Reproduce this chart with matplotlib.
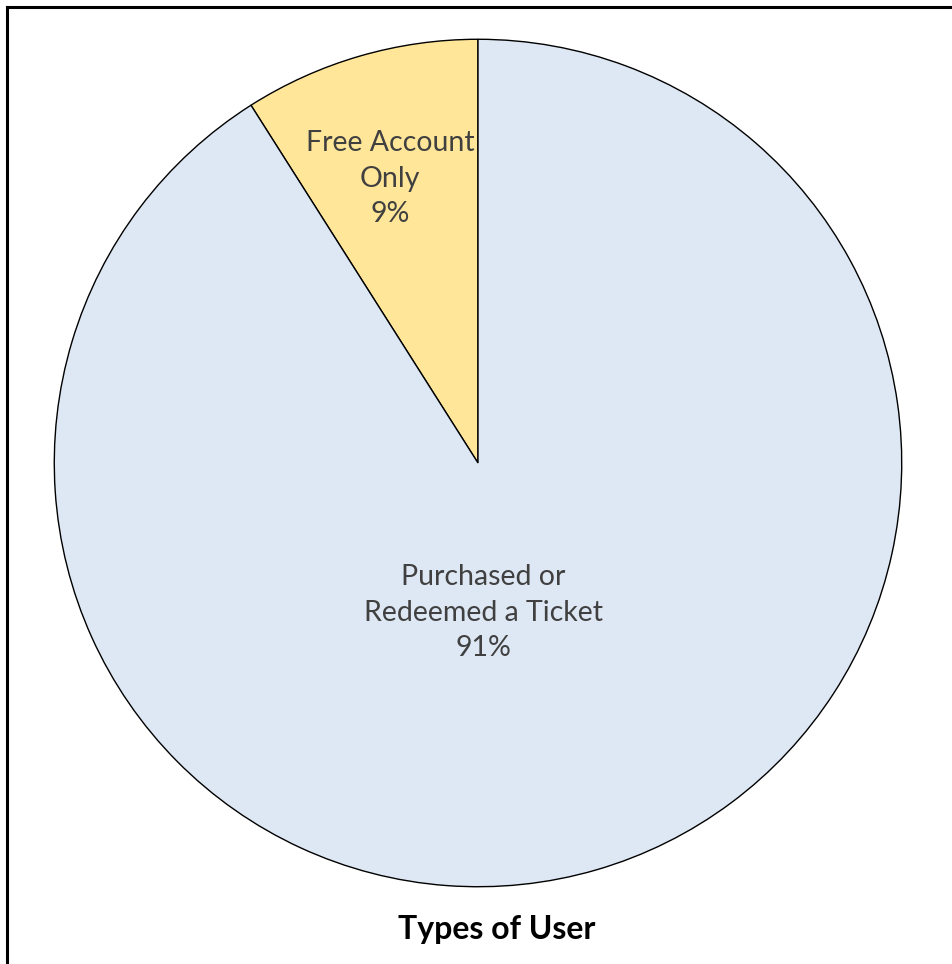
import matplotlib.pyplot as plt
from matplotlib.lines import Line2D

# user share by type
labels = ['Free Account\nOnly', 'Purchased or\nRedeemed a Ticket']
shares = [9, 91]
colors = ['#FFE699', '#DEE8F4']
title = 'Types of User'

W, H = 952, 964


def px_box(left, top, right, bottom):
    return [left / W, 1 - bottom / H, (right - left) / W, (bottom - top) / H]


def main():
    plt.rcParams['font.family'] = ['Lato', 'DejaVu Sans']
    fig = plt.figure(figsize=(W / 100, H / 100), dpi=100)
    ax = fig.add_axes(px_box(53, 38, 903, 888))

    wedges, _ = ax.pie(shares, colors=colors, startangle=90, counterclock=True,
                       radius=1, wedgeprops=dict(edgecolor='black', linewidth=1.0))
    ax.set_xlim(-1.003, 1.003)
    ax.set_ylim(-1.003, 1.003)
    ax.axis('off')

    total = sum(shares)
    label_pos = [(-0.207, 0.671), (0.012, -0.353)]
    for lab, val, (x, y) in zip(labels, shares, label_pos):
        ax.text(x, y, '%s\n%d%%' % (lab, round(val / total * 100)),
                ha='center', va='center', fontsize=20.5, color='#404040',
                linespacing=1.45)

    fig.text(497 / W, 1 - 930 / H, title, ha='center', va='center',
             fontsize=23, fontweight='bold', color='black')

    # frame edges along the top and left
    fig.add_artist(Line2D([7 / W, 7 / W], [0, 1 - 7 / H], color='black', lw=2.2,
                          transform=fig.transFigure))
    fig.add_artist(Line2D([7 / W, 1], [1 - 7 / H, 1 - 7 / H], color='black', lw=2.2,
                          transform=fig.transFigure))

    fig.savefig('out.png', dpi=100, facecolor='white')


if __name__ == '__main__':
    main()
